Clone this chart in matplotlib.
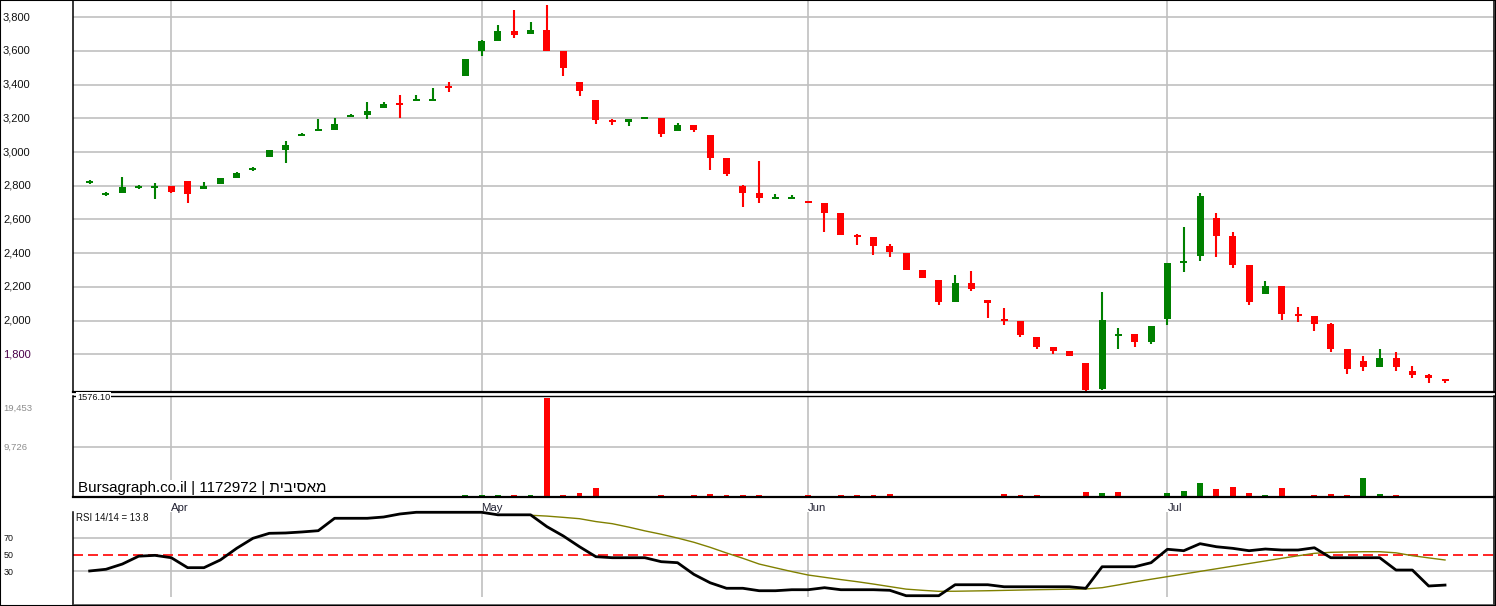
import numpy as np
import matplotlib
matplotlib.use('Agg')
import matplotlib.pyplot as plt
from matplotlib.transforms import blended_transform_factory
from matplotlib.patches import Rectangle

plt.rcParams['font.family'] = ['Liberation Sans', 'DejaVu Sans']

# daily OHLC, one entry per trading day
opens = [2820, 2749, 2755, 2791, 2789, 2799, 2828, 2783, 2812, 2848, 2898, 2973, 3012, 3098, 3128,
         3131, 3208, 3220, 3264, 3286, 3305, 3306, 3389, 3452, 3602, 3660, 3719, 3701, 3725, 3600,
         3416, 3309, 3189, 3181, 3200, 3202, 3127, 3161, 3101, 2965, 2799, 2757, 2724, 2726, 2706,
         2698, 2639, 2508, 2494, 2441, 2399, 2300, 2239, 2112, 2223, 2120, 2004, 1998, 1903, 1843,
         1820, 1748, 1596, 1913, 1920, 1873, 2010, 2342, 2383, 2609, 2502, 2330, 2158, 2205, 2038,
         2027, 1980, 1832, 1760, 1725, 1778, 1701, 1677, 1649]
highs = [2834, 2763, 2854, 2805, 2818, 2799, 2828, 2824, 2845, 2882, 2910, 3011, 3066, 3112, 3198,
         3202, 3226, 3297, 3297, 3337, 3339, 3380, 3416, 3552, 3665, 3755, 3844, 3772, 3873, 3600,
         3416, 3309, 3196, 3197, 3210, 3202, 3173, 3161, 3101, 2965, 2805, 2947, 2751, 2745, 2710,
         2698, 2639, 2514, 2494, 2454, 2399, 2300, 2239, 2270, 2294, 2120, 2075, 1998, 1903, 1843,
         1820, 1748, 2170, 1956, 1920, 1968, 2342, 2555, 2757, 2639, 2526, 2330, 2235, 2205, 2081,
         2027, 1986, 1832, 1790, 1832, 1814, 1731, 1683, 1649]
lows = [2811, 2739, 2755, 2781, 2723, 2755, 2700, 2783, 2812, 2848, 2890, 2973, 2935, 3098, 3128,
        3131, 3208, 3196, 3264, 3202, 3305, 3306, 3358, 3452, 3570, 3660, 3677, 3701, 3600, 3452,
        3333, 3167, 3161, 3155, 3194, 3091, 3127, 3121, 2894, 2860, 2676, 2700, 2724, 2726, 2696,
        2528, 2510, 2450, 2389, 2379, 2302, 2255, 2094, 2112, 2177, 2017, 1976, 1904, 1833, 1803,
        1792, 1576.1, 1590, 1831, 1843, 1861, 1974, 2288, 2354, 2377, 2312, 2093, 2158, 2004, 1992,
        1938, 1814, 1683, 1701, 1725, 1701, 1660, 1630, 1628]
closes = [2825, 2753, 2791, 2795, 2793, 2765, 2753, 2799, 2845, 2876, 2902, 3011, 3040, 3102, 3132,
          3167, 3220, 3244, 3285, 3282, 3309, 3310, 3384, 3552, 3659, 3719, 3695, 3725, 3600, 3500,
          3364, 3191, 3184, 3196, 3204, 3107, 3161, 3133, 2967, 2872, 2759, 2729, 2730, 2731, 2702,
          2641, 2510, 2498, 2444, 2409, 2302, 2255, 2112, 2223, 2189, 2106, 1999, 1914, 1845, 1821,
          1792, 1588, 2004, 1919, 1873, 1968, 2342, 2350, 2740, 2502, 2330, 2110, 2205, 2039, 2033,
          1980, 1832, 1713, 1725, 1778, 1725, 1677, 1660, 1646]
volumes = [0, 0, 0, 0, 0, 0, 0, 0, 0, 0, 0, 0, 0, 0, 0,
           260, 0, 260, 0, 0, 260, 260, 260, 450, 450, 450, 450, 450, 19453, 300,
           850, 1820, 0, 0, 0, 300, 0, 300, 500, 450, 450, 450, 260, 260, 450,
           260, 450, 450, 450, 650, 260, 260, 260, 0, 260, 260, 650, 450, 450, 0,
           260, 1050, 850, 1050, 260, 260, 850, 1240, 2800, 1630, 2020, 850, 450, 1830, 260,
           450, 650, 450, 3780, 650, 450, 260, 260, 0]
rsi = [30.5, 32.5, 38.7, 48, 49, 46.2, 34.4, 34.4, 43.5, 57.3, 69.2, 75.1, 75.5, 76.7, 78.2,
       92.9, 92.9, 92.9, 94.4, 98, 100, 100, 100, 100, 100, 97, 97, 97, 83, 72,
       59.2, 47.4, 46.2, 46.2, 46.2, 41.5, 40.3, 26.5, 16.5, 10, 10, 7.1, 7.1, 8.3, 8.3,
       10.7, 8.3, 8.3, 8.3, 7.6, 1.2, 1.2, 1.2, 14.2, 14.2, 14.2, 11.8, 11.8, 11.8, 11.8,
       11.8, 10, 35.5, 35.5, 35.5, 40.3, 56.2, 54.5, 62.8, 59.2, 57.3, 54.5, 56.5, 55.3, 55.3,
       58, 46.2, 46.2, 46.2, 46.2, 31.6, 31.6, 12.7, 13.8]
rsi_signal = [np.nan] * 27 + [
    96.5, 95.5, 94, 92.4, 89, 86.5, 82.5, 78, 74, 69.5, 64.5, 58.5, 51.8, 45.5, 38.7,
    34.2, 29.8, 25.7, 23, 20.3, 17.8, 15, 12, 9, 7.6, 6.4, 6.5, 6.8, 7.1, 7.5,
    7.9, 8.3, 8.6, 8.9, 9.2, 10.7, 14, 17.5, 20.7, 23.8, 26.9, 30, 33.1, 36.2, 39.3,
    42.4, 45.5, 48.5, 51.4, 52.6, 53, 53.3, 53.3, 52, 48.6, 46, 43.5]

month_names = ['Apr', 'May', 'Jun', 'Jul']
month_start = [5, 24, 44, 66]
price_ticks = [1800, 2000, 2200, 2400, 2600, 2800, 3000, 3200, 3400, 3600, 3800]
vol_ticks = [9726, 19453]
rsi_levels = [30, 70]
title_text = 'Bursagraph.co.il | 1172972 | ' + 'מאסיבית'[::-1]  # reversed: matplotlib has no bidi

opens, highs, lows, closes = map(np.array, (opens, highs, lows, closes))
volumes = np.array(volumes)
x = np.arange(len(opens))

GREEN, RED, GRID = '#008000', '#ff0000', '#c0c0c0'
W, H = 1496, 606
fig = plt.figure(figsize=(W / 100, H / 100), dpi=100)


def px_axes(left, top, right, bottom):
    ax = fig.add_axes([left / W, 1 - bottom / H, (right - left) / W, (bottom - top) / H])
    ax.set_xticks([])
    ax.set_yticks([])
    ax.set_xlim(-1.02, 86.0)
    for s in ax.spines.values():
        s.set_color('black')
        s.set_linewidth(1.1)
    return ax


ax_p = px_axes(73, 0, 1494, 392)
ax_v = px_axes(73, 396, 1494, 497)
ax_r = px_axes(73, 497, 1494, 605)

# ---- price panel
ax_p.set_ylim(1576.1, 3902)
ax_p.spines['bottom'].set_linewidth(1.6)
ax_p.hlines(price_ticks, -2, 90, color=GRID, lw=1.2, zorder=0)
ax_p.vlines(month_start, 1500, 4000, color=GRID, lw=1.2, zorder=0)

up = closes >= opens
ccol = np.where(up, GREEN, RED)
ax_p.vlines(x, lows, highs, colors=ccol, lw=1.5, zorder=2)
body_h = np.maximum(np.abs(closes - opens), 11)
body_mid = (opens + closes) / 2
ax_p.bar(x, body_h, bottom=body_mid - body_h / 2, width=0.43, color=ccol, lw=0, zorder=3)

ytr = blended_transform_factory(fig.transFigure, ax_p.transData)
for v in price_ticks:
    ax_p.text(3 / W, v, f'{v:,}', transform=ytr, ha='left', va='center', fontsize=8.0,
              color='#4a004a' if v == 1800 else '#111111')

# ---- volume panel
ax_v.set_ylim(0, 19765)
ax_v.spines['bottom'].set_visible(False)
ax_v.spines['top'].set_linewidth(1.0)
ax_v.hlines(vol_ticks[0], -2, 90, color=GRID, lw=1.2, zorder=0)
ax_v.vlines(month_start, 0, 30000, color=GRID, lw=1.2, zorder=0)
up_day = np.concatenate([[True], closes[1:] >= closes[:-1]])
ax_v.bar(x, volumes, width=0.36, color=np.where(up_day, GREEN, RED), lw=0, zorder=2)
vtr = blended_transform_factory(fig.transFigure, ax_v.transData)
ax_v.text(3 / W, vol_ticks[0], f'{vol_ticks[0]:,}', transform=vtr, ha='left', va='center',
          fontsize=6.8, color='#8c8c8c')
ax_v.annotate(f'{vol_ticks[1]:,}', xy=(3 / W, vol_ticks[1]), xycoords=vtr, xytext=(0, -8),
              textcoords='offset points', ha='left', va='center', fontsize=6.8, color='#8c8c8c')
ax_v.text(0.0028, 0.985, f'{lows.min():.2f}', transform=ax_v.transAxes, ha='left', va='center',
          fontsize=6.6, color='#111111', zorder=6,
          bbox=dict(facecolor='white', edgecolor='none', pad=0.6))
ax_v.text(0.0035, 0.09, title_text, transform=ax_v.transAxes, ha='left', va='center',
          fontsize=10.9, color='black', zorder=6,
          bbox=dict(facecolor='white', edgecolor='none', pad=1.0))

# ---- RSI panel
ax_r.set_ylim(-9.8, 118.1)
ax_r.spines['top'].set_linewidth(1.6)
ax_r.spines['left'].set_bounds(-9.8, 100)
ax_r.spines['bottom'].set_color('#444444')
ax_r.hlines(rsi_levels, -2, 90, color=GRID, lw=1.2, zorder=0)
ax_r.vlines(month_start, 0, 100, color=GRID, lw=1.2, zorder=0)
ax_r.axhline(50, color=RED, lw=1.2, linestyle=(0, (6.0, 3.0)), zorder=1)
ax_r.plot(x, rsi_signal, color='#808000', lw=1.0, zorder=2)
ax_r.plot(x, rsi, color='black', lw=2.0, zorder=3)
for name, m in zip(month_names, month_start):
    ax_r.text(m, 104.7, name, ha='left', va='center', fontsize=8.2, color='#222233')
ax_r.text(0.0024, 93.6, f'RSI 14/14 = {rsi[-1]:.1f}',
          transform=blended_transform_factory(ax_r.transAxes, ax_r.transData),
          ha='left', va='center', fontsize=6.9, color='#111111')
rtr = blended_transform_factory(fig.transFigure, ax_r.transData)
for v in [70, 50, 30]:
    ax_r.text(4 / W, v - 1.5, str(v), transform=rtr, ha='left', va='center', fontsize=6.4,
              color='#111111')

fig.patches.append(Rectangle((0, 0), 1, 1, transform=fig.transFigure, fill=False,
                             edgecolor='black', lw=1.5))

fig.savefig('out.png', dpi=100)
